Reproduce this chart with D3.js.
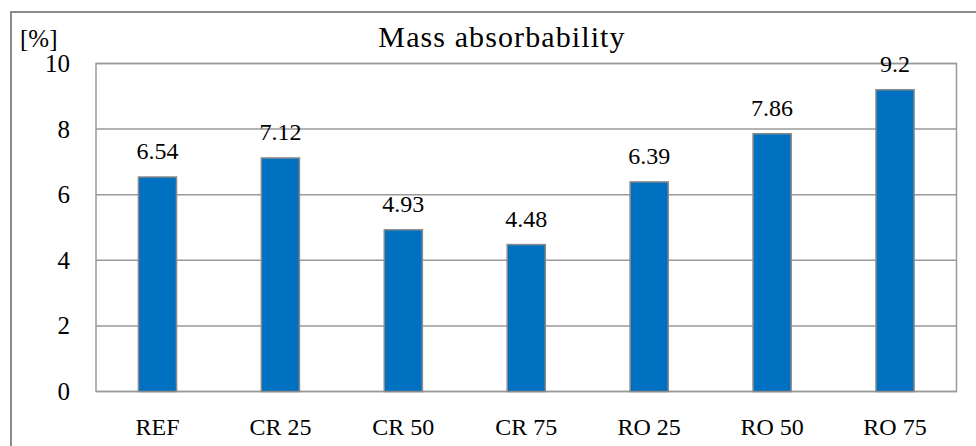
<!DOCTYPE html>
<html>
<head>
<meta charset="utf-8">
<script src="https://cdn.jsdelivr.net/npm/d3@7"></script>
<style>
  html, body { margin: 0; padding: 0; background: #fff; }
  svg { display: block; }
  svg text { font-family: "Liberation Serif", "Times New Roman", serif; fill: #000; }
</style>
</head>
<body>
<svg id="chart" width="976" height="446"></svg>
<script>
// Mass absorbability per mix
const categories = ["REF", "CR 25", "CR 50", "CR 75", "RO 25", "RO 50", "RO 75"];
const values = [6.54, 7.12, 4.93, 4.48, 6.39, 7.86, 9.2];
const valueLabels = ["6.54", "7.12", "4.93", "4.48", "6.39", "7.86", "9.2"];
const yTicks = [0, 2, 4, 6, 8, 10];

const svg = d3.select("#chart");
const margin = { left: 96, top: 63.5 };
const plotW = 956.5 - margin.left;
const plotH = 391.5 - margin.top;

// outer frame (extends past the right/bottom edges)
svg.append("rect")
  .attr("x", 11).attr("y", 12)
  .attr("width", 1000).attr("height", 500)
  .attr("fill", "none").attr("stroke", "#8c8c8c").attr("stroke-width", 2);

const g = svg.append("g").attr("transform", `translate(${margin.left},${margin.top})`);

const x = d3.scaleBand().domain(categories).range([0, plotW]).paddingInner(0.69).paddingOuter(0.345);
const y = d3.scaleLinear().domain([0, 10]).range([plotH, 0]);

// gridlines
g.append("g").selectAll("line").data(yTicks).join("line")
  .attr("x1", 0).attr("x2", plotW)
  .attr("y1", d => y(d)).attr("y2", d => y(d))
  .attr("stroke", "#9a9a9a").attr("stroke-width", 1.5);

// plot border
g.append("rect").attr("x", 0).attr("y", 0).attr("width", plotW).attr("height", plotH)
  .attr("fill", "none").attr("stroke", "#9a9a9a").attr("stroke-width", 1.5);

// y axis labels
const yAxis = d3.axisLeft(y).tickValues(yTicks).tickSize(0).tickPadding(26);
const ya = g.append("g").call(yAxis).attr("font-family", null).attr("font-size", 25);
ya.select(".domain").remove();
ya.selectAll("text").attr("fill", null);

// x axis labels
const xAxis = d3.axisBottom(x).tickSize(0).tickPadding(26);
const xa = g.append("g").attr("transform", `translate(0,${plotH})`).call(xAxis)
  .attr("font-family", null).attr("font-size", 24);
xa.select(".domain").remove();
xa.selectAll("text").attr("fill", null);

// bars
g.append("g").selectAll("rect").data(values).join("rect")
  .attr("x", (d, i) => x(categories[i]))
  .attr("width", x.bandwidth())
  .attr("y", d => y(d))
  .attr("height", d => plotH - y(d))
  .attr("fill", "#0070c0")
  .attr("stroke", "#8a8a8a").attr("stroke-width", 1.5);

// value labels
g.append("g").selectAll("text").data(values).join("text")
  .attr("x", (d, i) => x(categories[i]) + x.bandwidth() / 2)
  .attr("y", d => y(d) - 18)
  .attr("text-anchor", "middle")
  .attr("font-size", 24)
  .text((d, i) => valueLabels[i]);

// title and unit
svg.append("text").attr("x", 502).attr("y", 47).attr("text-anchor", "middle")
  .attr("font-size", 30).attr("letter-spacing", 1.1)
  .text("Mass absorbability");
svg.append("text").attr("x", 20).attr("y", 47)
  .attr("font-size", 25).text("[%]");
</script>
</body>
</html>
